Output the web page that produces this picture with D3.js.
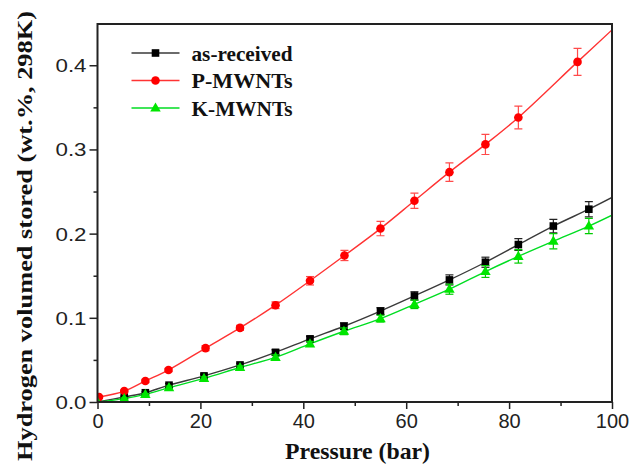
<!DOCTYPE html>
<html>
<head>
<meta charset="utf-8">
<script src="https://cdn.jsdelivr.net/npm/d3@7"></script>
<style>
  body { margin: 0; background: #fff; }
  svg { display: block; }
</style>
</head>
<body>
<div id="chart"></div>
<script>
// pressure (bar) for each measured point
var pressureAR = [0, 5.2, 9.3, 13.9, 20.7, 27.7, 34.6, 41.3, 47.9, 55.0, 61.6, 68.4, 75.4, 81.8, 88.6, 95.5];
var pressureP = [0.3, 5.2, 9.3, 13.8, 21.0, 27.7, 34.6, 41.3, 48.0, 55.0, 61.6, 68.4, 75.4, 81.8, 93.3];

// stored hydrogen (wt.%)
var asReceived = [0, 0.006, 0.011, 0.020, 0.031, 0.044, 0.059, 0.075, 0.090, 0.108, 0.126, 0.145, 0.166, 0.187, 0.209, 0.229];
var kMwnts = [0, 0.004, 0.009, 0.017, 0.028, 0.041, 0.053, 0.069, 0.084, 0.099, 0.116, 0.134, 0.155, 0.173, 0.191, 0.209];
var pMwnts = [0.006, 0.013, 0.025, 0.038, 0.064, 0.088, 0.115, 0.144, 0.174, 0.206, 0.239, 0.273, 0.306, 0.338, 0.404];

// error bars (+/-)
var asReceivedErr = [0, 0.001, 0.001, 0.002, 0.002, 0.002, 0.003, 0.003, 0.004, 0.004, 0.005, 0.006, 0.006, 0.007, 0.008, 0.009];
var kMwntsErr = [0, 0.001, 0.001, 0.002, 0.002, 0.002, 0.003, 0.003, 0.004, 0.004, 0.005, 0.006, 0.007, 0.008, 0.009, 0.009];
var pMwntsErr = [0.001, 0.001, 0.002, 0.002, 0.003, 0.003, 0.004, 0.005, 0.006, 0.0085, 0.009, 0.011, 0.012, 0.0135, 0.016];

// value of each fitted line where it meets the right frame (100 bar)
var lineEndPressure = 100;
var lineEnd = { ar: 0.243, p: 0.442, k: 0.222 };

var xTicks = [0, 20, 40, 60, 80, 100];
var yTicks = [0, 0.1, 0.2, 0.3, 0.4];

var series = [
  { key: "ar", name: "as-received", x: pressureAR, y: asReceived, err: asReceivedErr,
    color: "#000000", lineColor: "#3a3a3a", errColor: "#222", marker: "square" },
  { key: "p", name: "P-MWNTs", x: pressureP, y: pMwnts, err: pMwntsErr,
    color: "#ff0000", lineColor: "#ff3333", errColor: "#ff4a4a", marker: "circle" },
  { key: "k", name: "K-MWNTs", x: pressureAR, y: kMwnts, err: kMwntsErr,
    color: "#00e600", lineColor: "#00dd22", errColor: "#00cc00", marker: "triangle" }
];

var width = 630, height = 466;
var margin = { top: 24, right: 18, bottom: 64, left: 97.5 };
var w = width - margin.left - margin.right,
    h = height - margin.top - margin.bottom;

var svg = d3.select("#chart").append("svg")
  .attr("width", width)
  .attr("height", height);

var g = svg.append("g")
  .attr("transform", "translate(" + margin.left + "," + margin.top + ")");

var x = d3.scaleLinear().domain([0, 100]).range([0, w]);
var y = d3.scaleLinear().domain([0, 0.449]).range([h, 0]);

var axisColor = "#222";

// minor ticks
g.append("g")
  .attr("transform", "translate(0," + h + ")")
  .call(d3.axisBottom(x).tickValues(d3.range(10, 100, 20)).tickSize(4).tickFormat(""))
  .call(a => a.select(".domain").remove())
  .call(a => a.selectAll("line").attr("stroke", axisColor).attr("stroke-width", 1.5));

g.append("g")
  .call(d3.axisLeft(y).tickValues([0.05, 0.15, 0.25, 0.35]).tickSize(4).tickFormat(""))
  .call(a => a.select(".domain").remove())
  .call(a => a.selectAll("line").attr("stroke", axisColor).attr("stroke-width", 1.5));

// major axes
var xAxis = g.append("g")
  .attr("transform", "translate(0," + h + ")")
  .call(d3.axisBottom(x).tickValues(xTicks).tickSize(7).tickPadding(5).tickFormat(d3.format("d")));

var yAxis = g.append("g")
  .call(d3.axisLeft(y).tickValues(yTicks).tickSize(8).tickPadding(3).tickFormat(d3.format(".1f")));

[xAxis, yAxis].forEach(function(a) {
  a.select(".domain").remove();
  a.selectAll("line").attr("stroke", axisColor).attr("stroke-width", 1.5);
  a.selectAll("text")
    .attr("fill", "#222")
    .style("font-family", "'Liberation Sans', Arial, sans-serif");
});
xAxis.selectAll("text").style("font-size", "20px");
yAxis.selectAll("text")
  .style("font-size", "18px")
  .attr("dy", "0.36em")
  .attr("textLength", 31)
  .attr("lengthAdjust", "spacingAndGlyphs");

// clip to plot area
svg.append("defs").append("clipPath").attr("id", "plotClip")
  .append("rect").attr("x", 0).attr("y", -10).attr("width", w).attr("height", h + 10);

var plot = g.append("g").attr("clip-path", "url(#plotClip)");

var line = d3.line()
  .x(d => x(d[0]))
  .y(d => y(d[1]))
  .curve(d3.curveCatmullRom);

series.forEach(function(s) {
  var pts = s.x.map((px, i) => [px, s.y[i]]);
  pts.push([lineEndPressure, lineEnd[s.key]]);
  plot.append("path")
    .attr("d", line(pts))
    .attr("fill", "none")
    .attr("stroke", s.lineColor)
    .attr("stroke-width", 1.4);
});

function drawMarker(sel, type, color, cx, cy) {
  if (type === "square") {
    sel.append("rect")
      .attr("x", cx - 3.8).attr("y", cy - 3.8)
      .attr("width", 7.6).attr("height", 7.6)
      .attr("fill", color);
  } else if (type === "circle") {
    sel.append("circle")
      .attr("cx", cx).attr("cy", cy).attr("r", 4.3)
      .attr("fill", color);
  } else {
    sel.append("path")
      .attr("d", d3.symbol().type(d3.symbolTriangle).size(48)())
      .attr("transform", "translate(" + cx + "," + (cy + 0.5) + ")")
      .attr("fill", color);
  }
}

series.forEach(function(s) {
  var grp = plot.append("g");
  s.x.forEach(function(px, i) {
    var cx = x(px), e = s.err[i];
    if (e > 0) {
      var y1 = y(s.y[i] + e), y2 = y(s.y[i] - e);
      grp.append("line").attr("x1", cx).attr("x2", cx).attr("y1", y1).attr("y2", y2)
        .attr("stroke", s.errColor).attr("stroke-width", 1.2);
      [y1, y2].forEach(function(yy) {
        grp.append("line").attr("x1", cx - 4).attr("x2", cx + 4).attr("y1", yy).attr("y2", yy)
          .attr("stroke", s.errColor).attr("stroke-width", 1.2);
      });
    }
    drawMarker(grp, s.marker, s.color, cx, y(s.y[i]));
  });
});

// frame
g.append("rect")
  .attr("width", w).attr("height", h)
  .attr("fill", "none")
  .attr("stroke", axisColor)
  .attr("stroke-width", 2);

// legend
var legend = g.append("g").attr("transform", "translate(34,29)");
series.forEach(function(s, i) {
  var row = legend.append("g").attr("transform", "translate(0," + (i * 27.5) + ")");
  row.append("line").attr("x1", 0).attr("x2", 48).attr("y1", 0).attr("y2", 0)
    .attr("stroke", s.lineColor).attr("stroke-width", 1.4);
  drawMarker(row, s.marker, s.color, 24, 0);
  row.append("text")
    .attr("x", 60).attr("y", 0).attr("dy", "0.35em")
    .style("font-family", "'Liberation Serif', 'Times New Roman', serif")
    .style("font-weight", "bold")
    .style("font-size", "22px")
    .attr("textLength", 101)
    .attr("lengthAdjust", "spacingAndGlyphs")
    .attr("fill", "#111")
    .text(s.name);
});

// axis titles
svg.append("text")
  .attr("x", 357.5)
  .attr("y", 459)
  .attr("text-anchor", "middle")
  .attr("textLength", 145)
  .attr("lengthAdjust", "spacingAndGlyphs")
  .style("font-family", "'Liberation Serif', 'Times New Roman', serif")
  .style("font-weight", "bold")
  .style("font-size", "23px")
  .attr("fill", "#111")
  .text("Pressure (bar)");

svg.append("text")
  .attr("transform", "translate(24," + 236 + ") rotate(-90)")
  .attr("text-anchor", "middle")
  .attr("dy", "0.35em")
  .attr("textLength", 450)
  .attr("lengthAdjust", "spacingAndGlyphs")
  .style("font-family", "'Liberation Serif', 'Times New Roman', serif")
  .style("font-weight", "bold")
  .style("font-size", "22px")
  .attr("fill", "#111")
  .text("Hydrogen volumed stored (wt.%, 298K)");
</script>
</body>
</html>
